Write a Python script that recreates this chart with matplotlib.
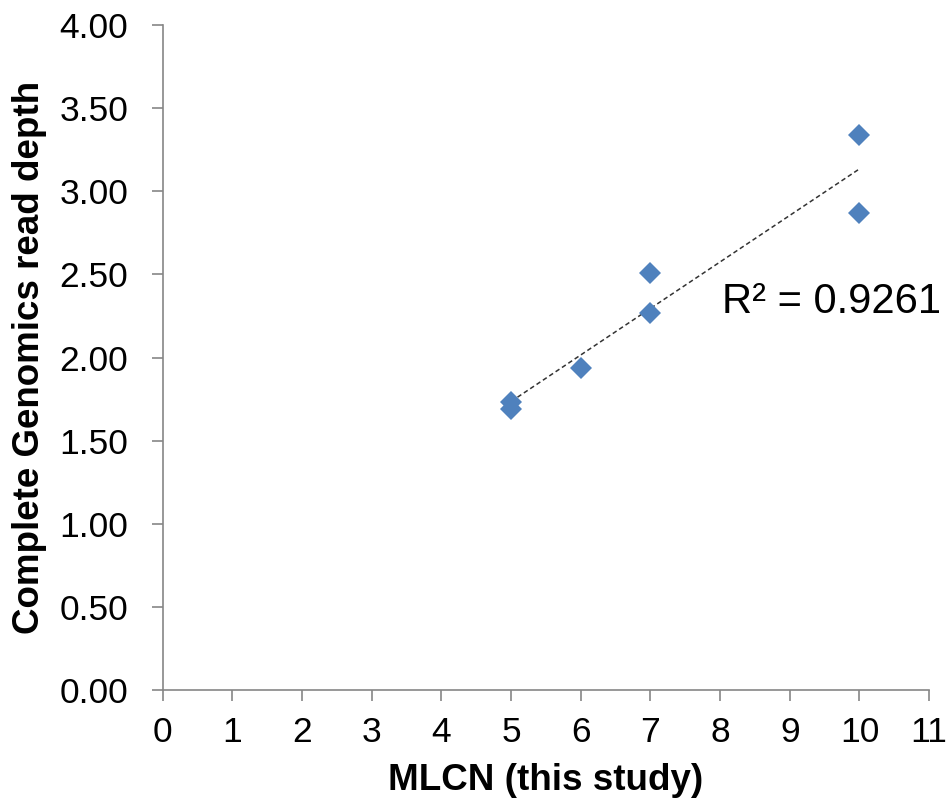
import numpy as np
import matplotlib.pyplot as plt

plt.rcParams['font.family'] = ['Liberation Sans', 'DejaVu Sans']

# MLCN vs read depth values
mlcn = [5, 5, 6, 7, 7, 10, 10]
read_depth = [1.73, 1.69, 1.94, 2.27, 2.51, 3.34, 2.87]
r2_text = "R² = 0.9261"

fig = plt.figure(figsize=(9.52, 8.09), dpi=100)
ax = fig.add_axes([0.171, 0.147, 0.805, 0.822])

ax.plot(mlcn, read_depth, linestyle='none', marker='D', markersize=11.5,
        color='#4F81BD', markeredgewidth=0, zorder=3)

# linear trend line
slope, intercept = np.polyfit(mlcn, read_depth, 1)
xs = np.array([min(mlcn), max(mlcn)])
ax.plot(xs, slope * xs + intercept, linestyle=(0, (3, 2)), color='#333333',
        linewidth=1.1, zorder=2)

ax.text(8.03, 2.27, r2_text, fontsize=30, ha='left', va='baseline')

ax.set_xlim(0, 11)
ax.set_ylim(0, 4)
ax.set_xticks(range(0, 12))
ax.set_yticks(np.arange(0, 4.01, 0.5))
ax.set_yticklabels([f"{v:.2f}" for v in np.arange(0, 4.01, 0.5)])

for side in ['top', 'right']:
    ax.spines[side].set_visible(False)
for side in ['left', 'bottom']:
    ax.spines[side].set_color('#868686')
    ax.spines[side].set_linewidth(1.2)

ax.tick_params(axis='both', direction='out', length=8, width=1.2,
               color='#868686', labelsize=25.5)
ax.tick_params(axis='y', pad=17)
ax.tick_params(axis='x', pad=11)

ax.set_xlabel("MLCN (this study)", fontsize=26.5, fontweight='bold', labelpad=10)
ax.set_ylabel("Complete Genomics read depth", fontsize=26.5, fontweight='bold', labelpad=9)

fig.savefig("out.png", dpi=100)
